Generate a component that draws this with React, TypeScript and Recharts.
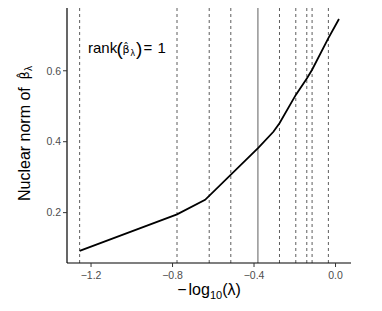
import { LineChart, Line, XAxis, YAxis, ReferenceLine } from "recharts";

// -log10(lambda) along the solution path and the nuclear norm of beta-hat
const negLogLambda = [-1.256, -0.778, -0.64, -0.378, -0.305, -0.275, -0.195, -0.14, -0.115, -0.035, 0.017];
const nuclearNorm = [0.092, 0.195, 0.236, 0.383, 0.428, 0.452, 0.532, 0.579, 0.603, 0.692, 0.746];

// dashed: lambdas where the rank changes, solid grey: the selected one
const rankBreaks = [-1.256, -0.778, -0.62, -0.514, -0.275, -0.195, -0.141, -0.115, -0.035];
const chosenLambda = -0.381;

const xTicks = [-1.2, -0.8, -0.4, 0];
const yTicks = [0.2, 0.4, 0.6];

const data = negLogLambda.map((x, i) => ({ x, norm: nuclearNorm[i] }));

const FONT = '"Liberation Sans", Arial, Helvetica, sans-serif';
const HAT_FONT = '"DejaVu Sans", sans-serif';
const fmt = (v: number) => v.toFixed(1).replace("-", "\u2212");
const BETA_HAT = "\u03B2\u0302";

export default function App() {
  return (
    <div
      style={{
        position: "absolute",
        left: 0,
        top: 0,
        width: 382,
        height: 311,
        background: "#fff",
        fontFamily: FONT,
      }}
    >
      <LineChart width={382} height={311} data={data} margin={{ top: 8, right: 31, bottom: 0, left: 0 }}>
        <XAxis
          type="number"
          dataKey="x"
          domain={[-1.318, 0.076]}
          ticks={xTicks}
          tickFormatter={fmt}
          allowDataOverflow
          height={48}
          tickSize={4}
          tickMargin={5}
          axisLine={{ stroke: "#000", strokeWidth: 1.2 }}
          tickLine={{ stroke: "#333" }}
          tick={{ fill: "#4d4d4d", fontSize: 10.5, fontFamily: FONT }}
        />
        <YAxis
          type="number"
          domain={[0.058, 0.777]}
          ticks={yTicks}
          tickFormatter={fmt}
          allowDataOverflow
          width={67}
          tickSize={4}
          tickMargin={2}
          axisLine={{ stroke: "#000", strokeWidth: 1.2 }}
          tickLine={{ stroke: "#333" }}
          tick={{ fill: "#4d4d4d", fontSize: 10.5, fontFamily: FONT }}
        />
        {rankBreaks.map((v) => (
          <ReferenceLine key={v} x={v} stroke="#333" strokeDasharray="3 3" strokeWidth={0.8} />
        ))}
        <ReferenceLine x={chosenLambda} stroke="#8c8c8c" strokeWidth={1.4} />
        <Line
          dataKey="norm"
          type="linear"
          stroke="#000"
          strokeWidth={1.8}
          dot={false}
          isAnimationActive={false}
        />
      </LineChart>

      <svg
        width={382}
        height={311}
        style={{ position: "absolute", left: 0, top: 0, pointerEvents: "none" }}
        fontFamily={FONT}
      >
        {/* rank annotation */}
        <text fill="#000" fontSize={15}>
          <tspan x={88} y={53}>rank</tspan>
          <tspan x={116.5} y={55} fontSize={19}>(</tspan>
          <tspan x={122.5} y={53} fontSize={11} fontFamily={HAT_FONT}>{BETA_HAT}</tspan>
          <tspan x={130.5} y={56} fontSize={9}>λ</tspan>
          <tspan x={136} y={55} fontSize={19}>)</tspan>
          <tspan x={143.5} y={53}>=</tspan>
          <tspan x={157.5} y={53}>1</tspan>
        </text>

        {/* x title */}
        <text x={209} y={295} fontSize={16} fill="#000" textAnchor="middle">
          <tspan>−</tspan>
          <tspan dx={2}>log</tspan>
          <tspan fontSize={11} dy={4}>10</tspan>
          <tspan dy={-4}>(λ)</tspan>
        </text>

        {/* y title */}
        <g transform="translate(30,131) rotate(-90)">
          <text fill="#000" fontSize={16}>
            <tspan x={-70} y={0}>Nuclear norm of</tspan>
            <tspan x={51.5} y={-1} fontSize={13} fontFamily={HAT_FONT}>{BETA_HAT}</tspan>
            <tspan x={60} y={2} fontSize={10}>λ</tspan>
          </text>
        </g>
      </svg>
    </div>
  );
}
